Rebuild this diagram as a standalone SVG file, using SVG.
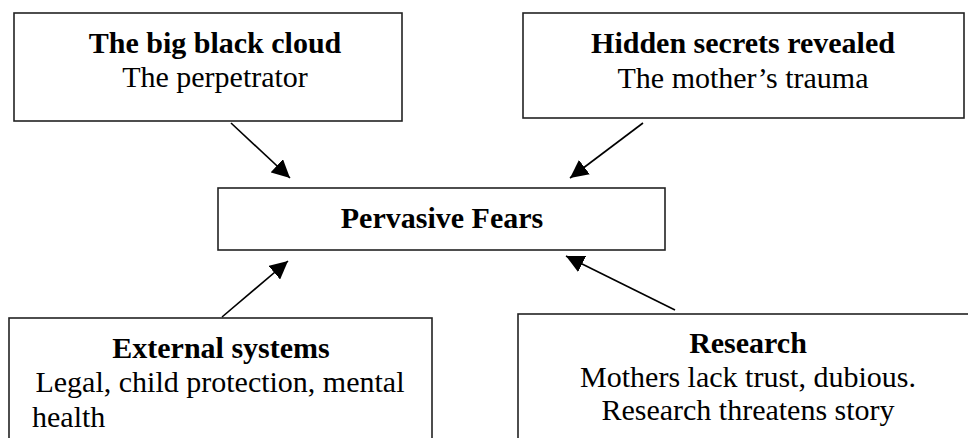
<svg xmlns="http://www.w3.org/2000/svg" width="968" height="438" viewBox="0 0 968 438">
<style>
.box{fill:#fff;stroke:#222;stroke-width:1.6}
.t{font-family:"Liberation Serif","Times New Roman",serif;font-size:30px;fill:#000}
.b{font-weight:bold}
.c{text-anchor:middle}
.ln{stroke:#000;stroke-width:1.6;fill:none}
</style>
<defs>
<marker id="ah" viewBox="0 0 10 10" refX="10" refY="5" markerWidth="18" markerHeight="18" markerUnits="userSpaceOnUse" orient="auto">
<path d="M0,0 L10,5 L0,10 z" fill="#000"/>
</marker>
</defs>
<rect width="968" height="438" fill="#fff"/>
<g id="cloud">
<rect class="box" x="14" y="13" width="388" height="108"/>
<text class="t b c" x="215" y="53">The big black cloud</text>
<text class="t c" x="215" y="87">The perpetrator</text>
</g>
<g id="secrets">
<rect class="box" x="523" y="13" width="441" height="105"/>
<text class="t b c" x="743" y="53">Hidden secrets revealed</text>
<text class="t c" x="743" y="88">The mother’s trauma</text>
</g>
<g id="fears">
<rect class="box" x="218" y="188" width="447" height="62"/>
<text class="t b c" x="442" y="228">Pervasive Fears</text>
</g>
<g id="external">
<rect class="box" x="9" y="318" width="423" height="140"/>
<text class="t b c" x="221" y="358">External systems</text>
<text class="t c" x="220" y="392">Legal, child protection, mental</text>
<text class="t" x="32" y="427">health</text>
</g>
<g id="research">
<rect class="box" x="518" y="314" width="460" height="140"/>
<text class="t b c" x="748" y="353">Research</text>
<text class="t c" x="748" y="387">Mothers lack trust, dubious.</text>
<text class="t c" x="748" y="420">Research threatens story</text>
</g>
<g id="connectors">
<line class="ln" x1="231" y1="123" x2="290" y2="178" marker-end="url(#ah)"/>
<line class="ln" x1="643" y1="123" x2="570" y2="178" marker-end="url(#ah)"/>
<line class="ln" x1="222" y1="317" x2="288" y2="261" marker-end="url(#ah)"/>
<line class="ln" x1="675" y1="310" x2="566" y2="256" marker-end="url(#ah)"/>
</g>
</svg>
